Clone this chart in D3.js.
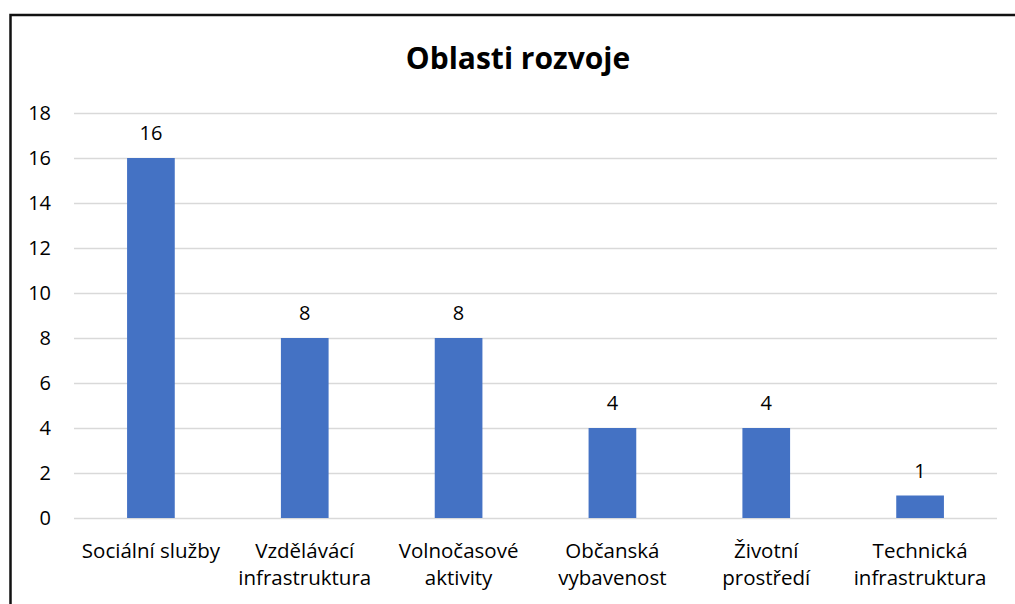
<!DOCTYPE html>
<html>
<head>
<meta charset="utf-8">
<script src="https://cdn.jsdelivr.net/npm/d3@7"></script>
<style>
body { margin: 0; background: #fff; }
text { font-family: "Open Sans", "Noto Sans", sans-serif; fill: #000; }
</style>
</head>
<body>
<svg id="chart" width="1015" height="604"></svg>
<script>
var categories = [
    ["Sociální služby"],
    ["Vzdělávácí", "infrastruktura"],
    ["Volnočasové", "aktivity"],
    ["Občanská", "vybavenost"],
    ["Životní", "prostředí"],
    ["Technická", "infrastruktura"]
];
var values = [16, 8, 8, 4, 4, 1];
var yTicks = [0, 2, 4, 6, 8, 10, 12, 14, 16, 18];

var width = 1015;
var height = 604;
var svg = d3.select("#chart");

// frame
svg.append("rect")
    .attr("x", 10.5)
    .attr("y", 15)
    .attr("width", 1100)
    .attr("height", 700)
    .style("fill", "#fff")
    .style("stroke", "#111")
    .style("stroke-width", 2.5);

svg.append("text")
    .attr("x", 518)
    .attr("y", 69)
    .attr("text-anchor", "middle")
    .style("font-weight", "bold")
    .style("font-size", "30px")
    .text("Oblasti rozvoje");

var x = d3.scaleBand()
    .domain(d3.range(values.length))
    .range([74, 997])
    .paddingInner(0.69)
    .paddingOuter(0.345);

var y = d3.scaleLinear()
    .domain([0, 18])
    .range([518, 113]);

// gridlines
svg.append("g")
    .selectAll("line")
    .data(yTicks)
    .enter().append("line")
    .attr("x1", 74)
    .attr("x2", 997)
    .attr("y1", function (d) { return y(d) + 0.5; })
    .attr("y2", function (d) { return y(d) + 0.5; })
    .style("stroke", "#d9d9d9")
    .style("stroke-width", 1.5);

// y tick labels
svg.append("g")
    .selectAll("text")
    .data(yTicks)
    .enter().append("text")
    .attr("x", 51)
    .attr("y", function (d) { return y(d); })
    .attr("dy", "0.35em")
    .attr("text-anchor", "end")
    .style("font-size", "20px")
    .text(function (d) { return d; });

// bars
svg.append("g")
    .selectAll("rect")
    .data(values)
    .enter().append("rect")
    .attr("x", function (d, i) { return x(i); })
    .attr("y", function (d) { return y(d); })
    .attr("width", x.bandwidth())
    .attr("height", function (d) { return y(0) - y(d); })
    .style("fill", "#4472c4");

// value labels
svg.append("g")
    .selectAll("text")
    .data(values)
    .enter().append("text")
    .attr("x", function (d, i) { return x(i) + x.bandwidth() / 2; })
    .attr("y", function (d) { return y(d) - 18; })
    .attr("text-anchor", "middle")
    .style("font-size", "20px")
    .text(function (d) { return d; });

// category labels
var cat = svg.append("g")
    .selectAll("text")
    .data(categories)
    .enter().append("text")
    .attr("x", function (d, i) { return x(i) + x.bandwidth() / 2; })
    .attr("y", 558)
    .attr("text-anchor", "middle")
    .style("font-size", "20.5px");

cat.selectAll("tspan")
    .data(function (d) { return d; })
    .enter().append("tspan")
    .attr("x", function () { return d3.select(this.parentNode).attr("x"); })
    .attr("dy", function (d, j) { return j ? 27 : 0; })
    .text(function (d) { return d; });
</script>
</body>
</html>
